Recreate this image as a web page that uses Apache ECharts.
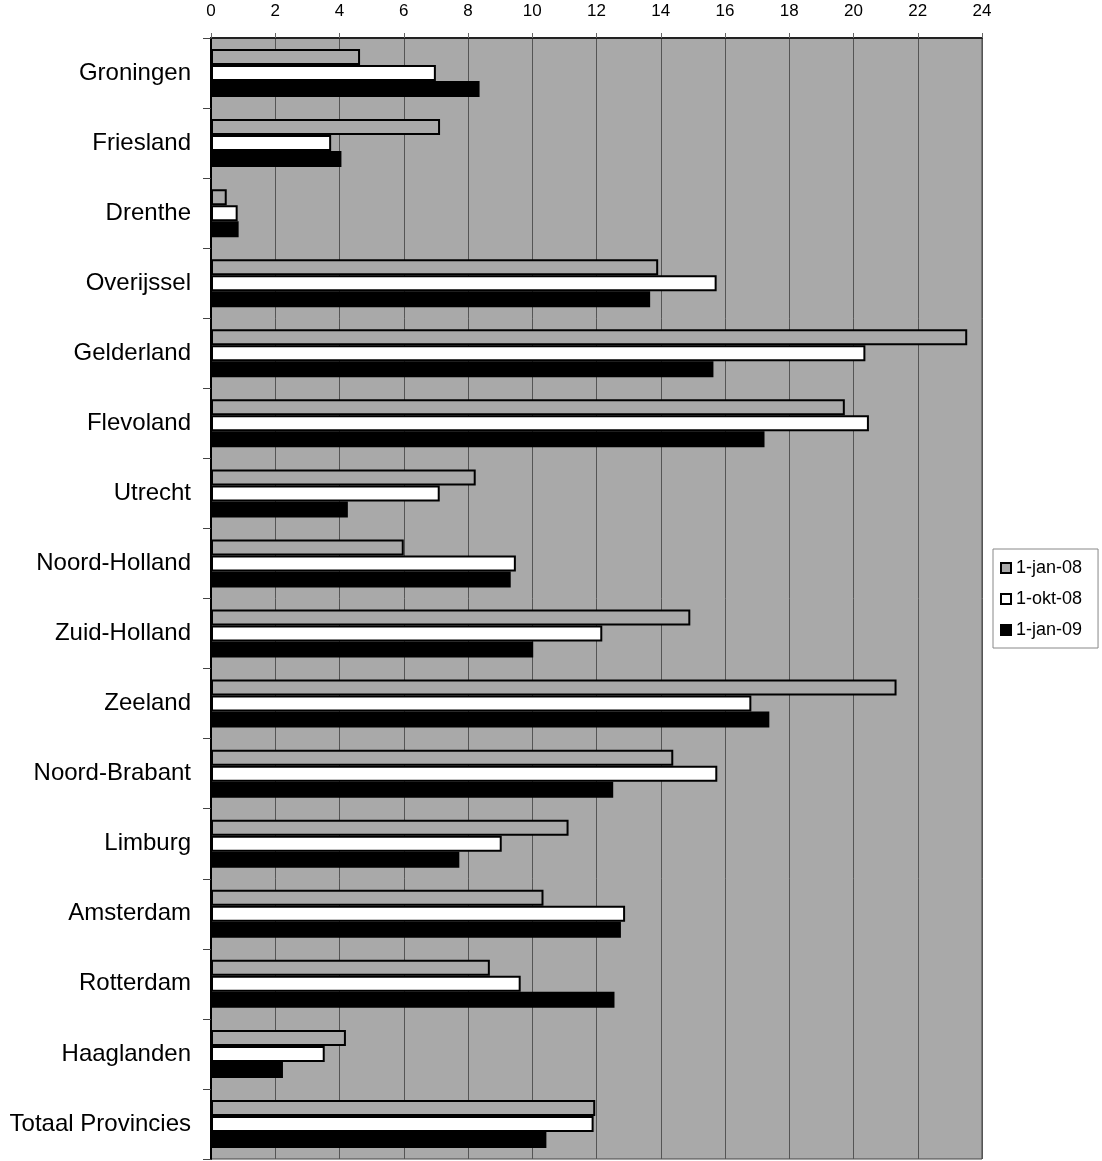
<!DOCTYPE html>
<html>
<head>
<meta charset="utf-8">
<script src="https://cdn.jsdelivr.net/npm/echarts@6/dist/echarts.min.js"></script>
<style>
html,body{margin:0;padding:0;background:#fff;}
#chart{width:1102px;height:1161px;}
</style>
</head>
<body>
<div id="chart"></div>
<script>
const categories = ["Groningen","Friesland","Drenthe","Overijssel","Gelderland","Flevoland","Utrecht","Noord-Holland","Zuid-Holland","Zeeland","Noord-Brabant","Limburg","Amsterdam","Rotterdam","Haaglanden","Totaal Provincies"];
const seriesNames = ["1-jan-08","1-okt-08","1-jan-09"];
const jan08 = [4.64, 7.13, 0.49, 13.92, 23.54, 19.73, 8.24, 6.0, 14.92, 21.34, 14.39, 11.13, 10.35, 8.68, 4.2, 11.96];
const okt08 = [7.0, 3.74, 0.83, 15.74, 20.37, 20.48, 7.12, 9.49, 12.18, 16.82, 15.76, 9.05, 12.89, 9.64, 3.54, 11.91];
const jan09 = [8.36, 4.06, 0.86, 13.67, 15.64, 17.23, 4.26, 9.33, 10.03, 17.38, 12.52, 7.73, 12.76, 12.56, 2.24, 10.44];

const fills = ["#a9a9a9", "#ffffff", "#000000"];
const dataSets = [jan08, okt08, jan09];
const font = "'Liberation Sans', Arial, sans-serif";

const chart = echarts.init(document.getElementById('chart'), null, {renderer:'canvas'});
chart.setOption({
  animation: false,
  backgroundColor: '#ffffff',
  grid: {left: 211, right: 120, top: 38, bottom: 2, show: true, backgroundColor: '#a9a9a9', borderColor: '#444', borderWidth: 1, containLabel: false},
  legend: {
    orient: 'vertical', left: 993, top: 549,
    data: seriesNames,
    icon: 'rect', itemWidth: 10, itemHeight: 10, itemGap: 13,
    backgroundColor: '#fff', borderColor: '#888', borderWidth: 1,
    padding: [10, 16, 9, 7],
    textStyle: {fontFamily: font, fontSize: 18, color: '#000', padding: [0,0,0,0]}
  },
  xAxis: {
    type: 'value', position: 'top', min: 0, max: 24, interval: 2,
    axisLine: {show: true, lineStyle: {color: '#222', width: 2}},
    axisTick: {show: true, length: 5, lineStyle: {color: '#666'}},
    axisLabel: {fontFamily: font, fontSize: 17, color: '#000', margin: 18},
    splitLine: {show: true, lineStyle: {color: '#555', width: 1}}
  },
  yAxis: {
    type: 'category', inverse: true, data: categories,
    axisLine: {show: true, lineStyle: {color: '#000', width: 2}},
    axisTick: {show: true, length: 8, lineStyle: {color: '#444'}},
    axisLabel: {fontFamily: font, fontSize: 24, color: '#000', margin: 20}
  },
  series: dataSets.map((d, i) => ({
    name: seriesNames[i], type: 'bar', data: d,
    barWidth: 16, barGap: '0%',
    itemStyle: {color: fills[i], borderColor: '#000', borderWidth: 2}
  }))
});
</script>
</body>
</html>
